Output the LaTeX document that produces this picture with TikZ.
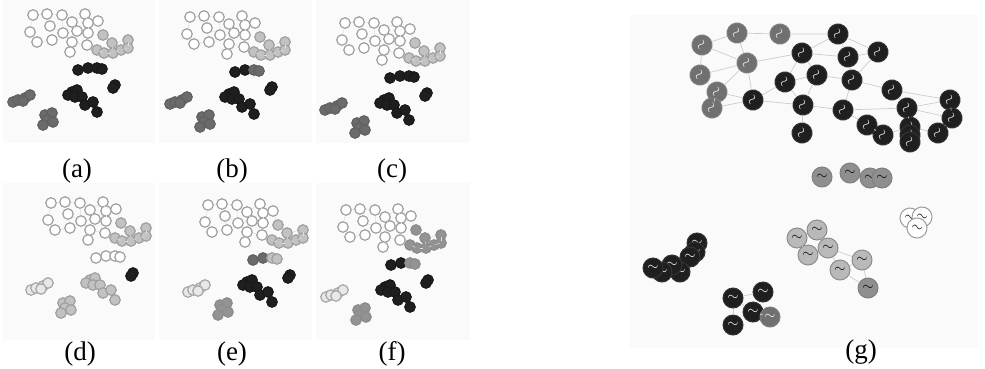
\documentclass[tikz,border=0pt]{standalone}
\usepackage{fontspec}
\setmainfont{Liberation Serif}
\usetikzlibrary{positioning}

\tikzset{
  % small dots of panels (a)-(f)
  dot/.style={circle, inner sep=0pt, minimum size=10.5pt, line width=1.2pt},
  dwhite/.style={dot, draw=gray!75, fill=white},
  dpale/.style={dot, draw=gray!70, fill=gray!18},
  dlight/.style={dot, draw=gray!75, fill=gray!48},
  dmid/.style={dot, draw=gray!90, fill=gray!85},
  ddark/.style={dot, draw=black!62, fill=black!58},
  dblack/.style={dot, draw=black!90, fill=black!88},
  % colour of each group (overridden per panel)
  wgrp/.style={dwhite}, lgrp/.style={dlight}, rgrp/.style={dblack}, rtail/.style={dblack},
  sgrp/.style={dblack}, bgrp/.style={dblack}, ggrp/.style={ddark}, xgrp/.style={ddark},
  link/.style={draw=gray!25, line width=0.5pt},
  panelbg/.style={fill=gray!4, draw=none},
  caption/.style={font=\fontsize{27}{30}\selectfont, inner sep=0pt},
  % big nodes of panel (g)
  bnode/.style={circle, inner sep=0pt, minimum size=20pt, line width=1pt, font=\Large},
  nblack/.style={bnode, draw=black!80, fill=black!88, text=white},
  ngray/.style={bnode, draw=black!50, fill=black!56, text=white},
  nmid/.style={bnode, draw=black!50, fill=black!44, text=black},
  nlight/.style={bnode, draw=gray!90, fill=gray!55, text=black},
  nwhite/.style={bnode, draw=gray!80, fill=white, text=black},
  glink/.style={draw=gray!40, line width=0.7pt}
}

% one small panel: #1 name, #2 shift, #3 group colours
\newcommand{\smallpanel}[3]{%
  \begin{scope}[shift={#2}, #3]
    \foreach \px/\py [count=\i] in {33/15,47/14,62/15,85/14,72/22,88/23,98/21,50/26,30/32,
        63/33,77/31,88/33,37/42,52/40,72/42,87/45,70/52}
      \node[wgrp] (#1w\i) at (\px,\py) {};
    \foreach \px/\py [count=\i] in {103/35,112/43,128/40,97/50,104/53,113/53,121/50,128/48}
      \node[lgrp] (#1l\i) at (\px,\py) {};
    \node[rgrp] (#1r1) at (78,70) {};
    \node[rgrp] (#1r2) at (88,68) {};
    \node[rtail] (#1r3) at (97,68) {};
    \node[rtail] (#1r4) at (102,69) {};
    \node[sgrp] (#1s1) at (115,85) {};
    \node[sgrp] (#1s2) at (113,88) {};
    \foreach \px/\py [count=\i] in {72/92,77/90,68/95,75/97,82/97,85/105,93/102,97/112}
      \node[bgrp] (#1b\i) at (\px,\py) {};
    \foreach \px/\py [count=\i] in {13/102,18/100,25/98,30/95,23/101}
      \node[ggrp] (#1g\i) at (\px,\py) {};
    \foreach \px/\py [count=\i] in {45/115,52/113,47/120,53/122,43/125}
      \node[xgrp] (#1x\i) at (\px,\py) {};
    % faint edges
    \foreach \u/\v in {1/2,2/3,3/5,4/5,4/6,6/7,1/9,2/8,8/10,3/10,5/11,6/12,10/11,11/12,
        9/13,13/14,8/14,10/15,15/16,12/16,15/17}
      \draw[link] (#1w\u) -- (#1w\v);
    \foreach \u/\v in {1/2,2/3,2/6,4/5,5/6,6/7,7/8,3/8}
      \draw[link] (#1l\u) -- (#1l\v);
    \draw[link] (#1w7) -- (#1l1);
    \draw[link] (#1w16) -- (#1l4);
  \end{scope}}

\begin{document}
\begin{tikzpicture}[x=1pt, y=-1pt]
  \useasboundingbox (0,0) rectangle (985,368);

  % ============================================
  % Backgrounds
  % ============================================
  \fill[panelbg] (3,0) rectangle (155,143);
  \fill[panelbg] (159,0) rectangle (312,143);
  \fill[panelbg] (316,0) rectangle (470,143);
  \fill[panelbg] (3,183) rectangle (155,340);
  \fill[panelbg] (159,183) rectangle (312,340);
  \fill[panelbg] (316,183) rectangle (470,340);
  \fill[panelbg] (630,15) rectangle (978,348);

  % ============================================
  % Panels (a)-(f)
  % ============================================
  \smallpanel{a}{(0,0)}{}
  \smallpanel{b}{(157,2)}{rtail/.style={ddark}}
  \smallpanel{c}{(312,8)}{}
  \smallpanel{d}{(18,188)}{rgrp/.style={dwhite}, rtail/.style={dwhite}, bgrp/.style={dlight},
    ggrp/.style={dpale}, xgrp/.style={dlight}}
  \smallpanel{e}{(175,190)}{rgrp/.style={ddark}, rtail/.style={dlight}, ggrp/.style={dpale},
    xgrp/.style={dmid}}
  \smallpanel{f}{(313,195)}{lgrp/.style={dmid}, rtail/.style={dmid}, ggrp/.style={dpale},
    xgrp/.style={dmid}}

  \node[caption] (capa) at (77,171) {(a)};
  \node[caption] (capb) at (232,171) {(b)};
  \node[caption] (capc) at (392,171) {(c)};
  \node[caption] (capd) at (80,354) {(d)};
  \node[caption] (cape) at (232,354) {(e)};
  \node[caption] (capf) at (392,354) {(f)};

  % ============================================
  % Panel (g)
  % ============================================
  % upper network
  \foreach \px/\py [count=\i] in {702/45,737/33,780/34,747/63,700/75,717/92,712/108}
    \node[ngray, rotate=55] (tg\i) at (\px,\py) {$\sim$};
  \foreach \px/\py [count=\i] in {838/34,802/53,848/57,878/52,785/82,817/75,852/80,892/90,
      753/100,803/105,843/110,907/108,950/100,867/125,883/135,910/127,910/135,910/142,
      938/133,952/118,802/133}
    \node[nblack, rotate=55] (tb\i) at (\px,\py) {$\sim$};
  \foreach \u/\v in {tg1/tg2,tg1/tg4,tg1/tg5,tg2/tg3,tg2/tg4,tg4/tg5,tg4/tg6,tg4/tb9,
      tg4/tb2,tg5/tg6,tg6/tg7,tg6/tb9,tg7/tb9,tg3/tb1,tb1/tb2,tb1/tb3,tb1/tb4,tb2/tb3,
      tb2/tb5,tb2/tb6,tb3/tb4,tb3/tb7,tb4/tb7,tb5/tb6,tb5/tb9,tb5/tb10,tb6/tb7,tb6/tb10,
      tb7/tb11,tb7/tb8,tb10/tb11,tb10/tb21,tb11/tb14,tb11/tb12,tb8/tb12,tb8/tb13,
      tb12/tb13,tb12/tb16,tb12/tb20,tb13/tb20,tb14/tb15,tb15/tb16,tb16/tb19,tb19/tb20,
      tb9/tb10}
    \draw[glink] (\u) -- (\v);

  % middle row
  \foreach \px/\py [count=\i] in {822/177,850/173,870/178,882/178}
    \node[nmid] (rw\i) at (\px,\py) {$\sim$};

  % white triad
  \foreach \px/\py [count=\i] in {910/218,922/217,917/228}
    \node[nwhite, rotate=-15] (wt\i) at (\px,\py) {$\sim$};

  % light cluster
  \foreach \px/\py [count=\i] in {797/238,817/230,808/255,828/248,862/260,840/270}
    \node[nlight] (lc\i) at (\px,\py) {$\sim$};
  \node[nmid] (lc7) at (868,288) {$\sim$};
  \foreach \u/\v in {lc1/lc2,lc1/lc3,lc2/lc4,lc3/lc4,lc4/lc5,lc4/lc6,lc5/lc6,lc6/lc7,lc5/lc7}
    \draw[glink] (\u) -- (\v);

  % left black cluster
  \foreach \px/\py [count=\i] in {697/243,695/252,690/257,680/272,672/265,662/272,653/268}
    \node[nblack] (lb\i) at (\px,\py) {$\sim$};

  % lower black cluster
  \foreach \px/\py [count=\i] in {733/298,763/292,753/312,733/325}
    \node[nblack] (cb\i) at (\px,\py) {$\sim$};
  \node[ngray] (cb5) at (770,317) {$\sim$};
  \foreach \u/\v in {cb1/cb2,cb1/cb3,cb2/cb3,cb1/cb4,cb3/cb5}
    \draw[glink] (\u) -- (\v);

  \node[caption] (capg) at (861,352) {(g)};

\end{tikzpicture}
\end{document}
